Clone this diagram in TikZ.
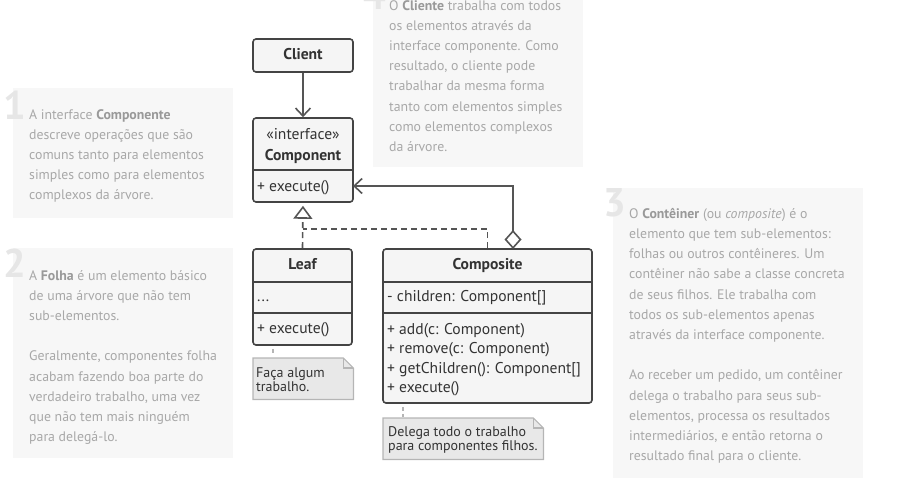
\documentclass[tikz,border=0pt]{standalone}
\usepackage{fontspec}
\setmainfont{PT Sans}
\usetikzlibrary{arrows.meta}
\definecolor{bgnote}{HTML}{F7F7F7}
\definecolor{ntext}{HTML}{A8A8A8}
\definecolor{nbold}{HTML}{999999}
\definecolor{numc}{HTML}{E6E6E6}
\definecolor{boxc}{HTML}{444444}
\definecolor{boxf}{HTML}{F5F5F5}
\definecolor{txt}{HTML}{333333}
\definecolor{notef}{HTML}{E8E8E8}
\definecolor{noteb}{HTML}{B5B5B5}
\definecolor{linec}{HTML}{555555}
\newcommand{\nb}[1]{{\bfseries\color{nbold}#1}}
\begin{document}
\begin{tikzpicture}[x=1pt,y=-1pt,
  ntxt/.style={inner sep=0, anchor=north west, align=left, text=ntext,
    font=\fontsize{13.8}{20.2}\selectfont},
  numstyle/.style={inner sep=0, anchor=base west, text=numc,
    font=\fontsize{40}{40}\selectfont\bfseries},
  cls/.style={draw=boxc, fill=boxf, line width=1.6pt, rounded corners=3pt, inner sep=0},
  utxt/.style={inner sep=0, text=txt, font=\fontsize{15.6}{18}\selectfont, text height=11pt, text depth=3pt},
  ubold/.style={utxt, font=\fontsize{15.6}{18}\selectfont\bfseries},
  divl/.style={draw=boxc, line width=1.6pt},
  assoc/.style={draw=linec, line width=1.6pt},
  real/.style={draw=linec, line width=1.6pt, dash pattern=on 6pt off 4pt},
  notebox/.style={inner sep=0, anchor=north west, minimum height=41pt},
  notetxt/.style={inner sep=0, anchor=west, align=left, text=txt, font=\fontsize{14}{14.2}\selectfont},
  noteline/.style={draw=noteb, line width=1.2pt, fill=notef},
  notecon/.style={draw=noteb, line width=1.2pt, dash pattern=on 4pt off 3pt}
]
\useasboundingbox (0,0) rectangle (918,491);

% background explanation panels
\fill[bgnote] (13,88) rectangle (233,218);
\fill[bgnote] (13,248) rectangle (233,458);
\fill[bgnote] (613,188) rectangle (863,478);
\fill[bgnote] (373,0) rectangle (583,167);

\node[numstyle] (num1) at (3,119) {1};
\node[numstyle] (num2) at (3,277) {2};
\node[numstyle] (num3) at (603,216) {3};
\node[numstyle] (num4) at (363,9) {4};

\node[ntxt] (t1) at (29,109) {A interface \nb{Componente}\\
descreve operações que são\\
comuns tanto para elementos\\
simples como para elementos\\
complexos da árvore.};

\node[ntxt] (t2) at (29,270) {A \nb{Folha} é um elemento básico\\
de uma árvore que não tem\\
sub-elementos.\\[20.2pt]
Geralmente, componentes folha\\
acabam fazendo boa parte do\\
verdadeiro trabalho, uma vez\\
que não tem mais ninguém\\
para delegá-lo.};

\node[ntxt] (t3) at (629,208) {O \nb{Contêiner} (ou \textit{composite}) é o\\
elemento que tem sub-elementos:\\
folhas ou outros contêineres. Um\\
contêiner não sabe a classe concreta\\
de seus filhos. Ele trabalha com\\
todos os sub-elementos apenas\\
através da interface componente.\\[20.2pt]
Ao receber um pedido, um contêiner\\
delega o trabalho para seus sub-\\
elementos, processa os resultados\\
intermediários, e então retorna o\\
resultado final para o cliente.};

\node[ntxt] (t4) at (389,0) {O \nb{Cliente} trabalha com todos\\
os elementos através da\\
interface componente. Como\\
resultado, o cliente pode\\
trabalhar da mesma forma\\
tanto com elementos simples\\
como elementos complexos\\
da árvore.};

% Client
\node[cls, minimum width=100pt, minimum height=33pt] (client) at (303,55.5) {};
\node[ubold] (clientnm) at (303,55.5) {Client};

% Component
\node[cls, minimum width=100pt, minimum height=84pt] (comp) at (303,160) {};
\node[utxt] (compst) at (303,135) {«interface»};
\node[ubold] (compnm) at (303,156) {Component};
\draw[divl] (comp.west |- 0,170) -- (comp.east |- 0,170);
\node[utxt, anchor=west] (compex) at (257,187) {+ execute()};

% Leaf
\node[cls, minimum width=99pt, minimum height=96pt] (leaf) at (302.5,297) {};
\node[ubold] (leafnm) at (302.5,265) {Leaf};
\draw[divl] (leaf.west |- 0,282) -- (leaf.east |- 0,282);
\draw[divl] (leaf.west |- 0,313) -- (leaf.east |- 0,313);
\node[utxt, anchor=west] (leafat) at (257,297) {...};
\node[utxt, anchor=west] (leafex) at (257,329) {+ execute()};

% Composite
\node[cls, minimum width=209pt, minimum height=154pt] (compos) at (487.5,326) {};
\node[ubold] (composnm) at (487.5,265) {Composite};
\draw[divl] (compos.west |- 0,282) -- (compos.east |- 0,282);
\draw[divl] (compos.west |- 0,313) -- (compos.east |- 0,313);
\node[utxt, anchor=west] (composat) at (387,297) {- children: Component[]};
\node[utxt, anchor=west] (composm1) at (387,330) {+ add(c: Component)};
\node[utxt, anchor=west] (composm2) at (387,349.5) {+ remove(c: Component)};
\node[utxt, anchor=west] (composm3) at (387,369) {+ getChildren(): Component[]};
\node[utxt, anchor=west] (composm4) at (387,388.5) {+ execute()};

% connectors
\draw[assoc, -{Straight Barb[length=8pt,width=15pt]}] (client.south) -- (comp.north);
\coordinate (dtop) at (513,249);
\coordinate (cin) at (353,186);
\coordinate (jn) at (302.5,229);
\draw[assoc, {Diamond[open,length=19pt,width=17pt]}-{Straight Barb[length=8pt,width=15pt]}] (dtop) |- (cin);
\draw[real, -{Triangle[open,length=13pt,width=19pt]}, shorten >=3pt] (leaf.north) -- (comp.south);
\draw[real] (compos.north) |- (jn);

% notes
\node[notebox, minimum width=100pt] (fnote) at (253,358) {};
\node[notebox, minimum width=160pt] (dnote) at (383,418) {};
\draw[noteline] (fnote.north west) -- ([xshift=-10pt]fnote.north east) -- ([yshift=-10pt]fnote.north east) -- (fnote.south east) -- (fnote.south west) -- cycle;
\draw[noteline] (dnote.north west) -- ([xshift=-10pt]dnote.north east) -- ([yshift=-10pt]dnote.north east) -- (dnote.south east) -- (dnote.south west) -- cycle;
\draw[noteline, fill=none] ([xshift=-10pt]fnote.north east) |- ([yshift=-10pt]fnote.north east);
\draw[noteline, fill=none] ([xshift=-10pt]dnote.north east) |- ([yshift=-10pt]dnote.north east);
\node[notetxt] (fnotet) at ([xshift=3pt,yshift=-1pt]fnote.west) {Faça algum\\trabalho.};
\node[notetxt] (dnotet) at ([xshift=5pt,yshift=-1pt]dnote.west) {Delega todo o trabalho\\para componentes filhos.};
\draw[notecon, shorten <=3pt, shorten >=4pt] ([xshift=-29.5pt]leaf.south) -- ([xshift=-29.5pt]leaf.south |- fnote.north);
\draw[notecon, shorten <=3pt, shorten >=1pt] ([xshift=-84.5pt]compos.south) -- ([xshift=-84.5pt]compos.south |- dnote.north);
\end{tikzpicture}
\end{document}
